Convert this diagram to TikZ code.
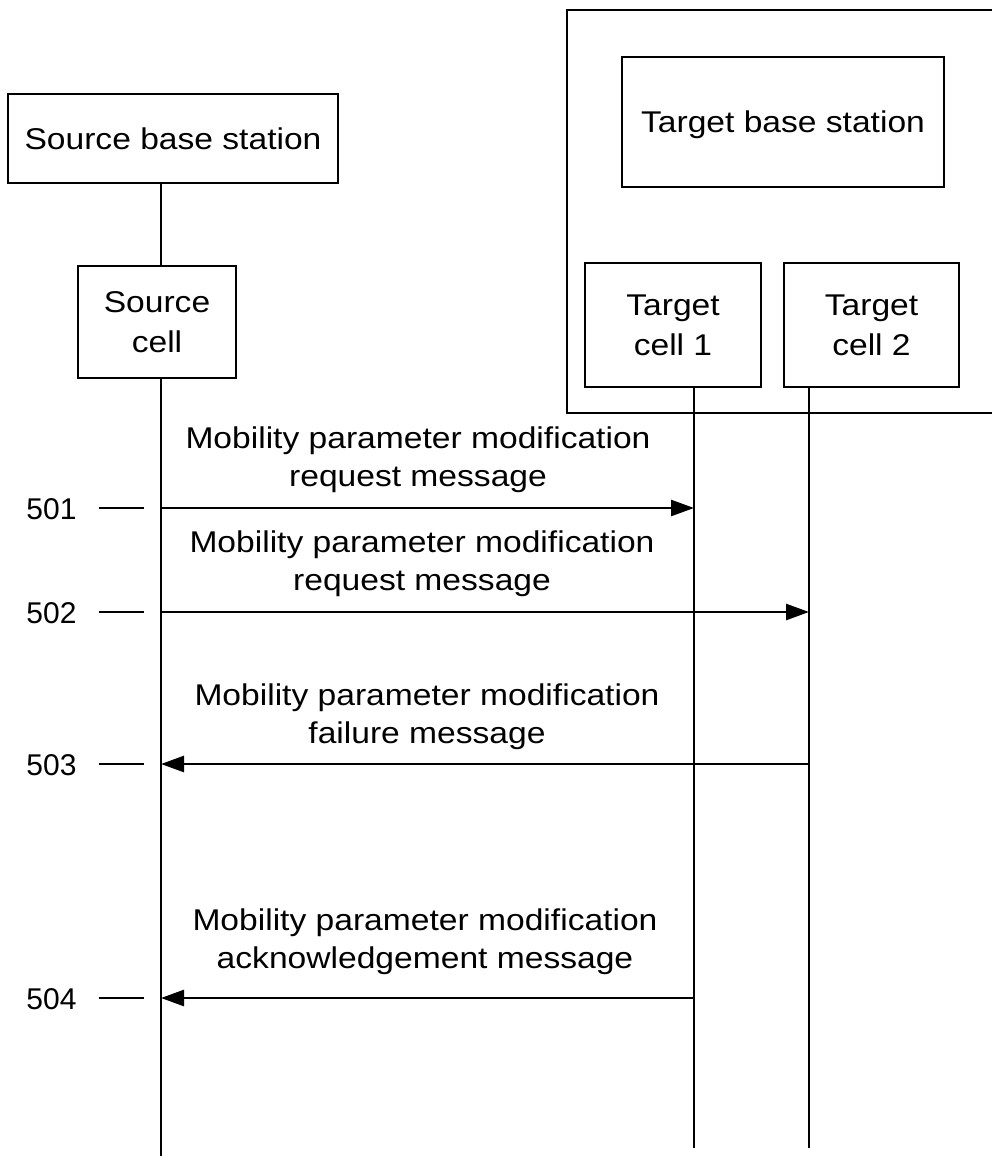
\documentclass[tikz,border=0pt]{standalone}
\usepackage{fontspec}
\setmainfont{Liberation Sans}[FakeStretch=1.12]
\newfontfamily\numfont{Liberation Sans}
\usetikzlibrary{arrows.meta}
\tikzset{
  box/.style={draw, line width=2.6pt, inner sep=0pt, align=center,
    font=\fontsize{30}{40}\selectfont},
  lbl/.style={inner sep=0pt, align=center, font=\fontsize{30}{38}\selectfont},
  num/.style={inner sep=0pt, font=\numfont\fontsize{30}{36}\selectfont},
  life/.style={line width=2.6pt},
  msg/.style={line width=2.6pt, -{Triangle[length=23pt,width=16pt]}},
  tick/.style={line width=2.4pt},
}
\begin{document}
\begin{tikzpicture}[x=1pt,y=-1pt]
\useasboundingbox (0,0) rectangle (992,1164);
% target group frame (open to the right edge)
\draw[life] (1000,10) -- (567,10) -- (567,413) -- (1000,413);
% boxes
\node[box, minimum width=330pt, minimum height=89pt] (srcbs) at (173,138.5) {Source base station};
\node[box, minimum width=158pt, minimum height=112pt] (srccell) at (157,322) {Source\\cell};
\node[box, minimum width=322pt, minimum height=130pt, text depth=0pt] (tbs) at (783,122) {Target base station};
\node[box, minimum width=176pt, minimum height=124pt] (tc1) at (673,325) {Target\\cell 1};
\node[box, minimum width=175pt, minimum height=124pt] (tc2) at (871.5,325) {Target\\cell 2};
% lifeline x positions
\coordinate (sx) at (161,0);
\coordinate (t1x) at (694,0);
\coordinate (t2x) at (809,0);
\coordinate (send) at (161,1156);
\coordinate (t1end) at (694,1148);
\coordinate (t2end) at (809,1148);
\draw[life] (srcbs.south -| sx) -- (srccell.north -| sx);
\draw[life] (srccell.south -| sx) -- (send);
\draw[life] (tc1.south -| t1x) -- (t1end);
\draw[life] (tc2.south -| t2x) -- (t2end);
% message end points
\coordinate (m1a) at (161,508); \coordinate (m1b) at (694,508);
\coordinate (m2a) at (161,612); \coordinate (m2b) at (809,612);
\coordinate (m3a) at (809,764); \coordinate (m3b) at (161,764);
\coordinate (m4a) at (694,998); \coordinate (m4b) at (161,998);
\draw[msg] (m1a) -- (m1b);
\draw[msg] (m2a) -- (m2b);
\draw[msg] (m3a) -- (m3b);
\draw[msg] (m4a) -- (m4b);
% message labels (base = baseline of the last line)
\node[lbl, anchor=base] (l1) at (418,486) {Mobility parameter modification\\request message};
\node[lbl, anchor=base] (l2) at (422,590) {Mobility parameter modification\\request message};
\node[lbl, anchor=base] (l3) at (427,743) {Mobility parameter modification\\failure message};
\node[lbl, anchor=base] (l4) at (425,968) {Mobility parameter modification\\acknowledgement message};
% step numbers and ticks
\foreach \n/\y in {501/508, 502/612, 503/764, 504/998}{
  \node[num, anchor=base] (n\n) at (51.5,\y+11) {\n};
  \coordinate (k\n) at (144,\y);
  \draw[tick] ([xshift=22pt]n\n.east |- k\n) -- (k\n);
}
\end{tikzpicture}
\end{document}
